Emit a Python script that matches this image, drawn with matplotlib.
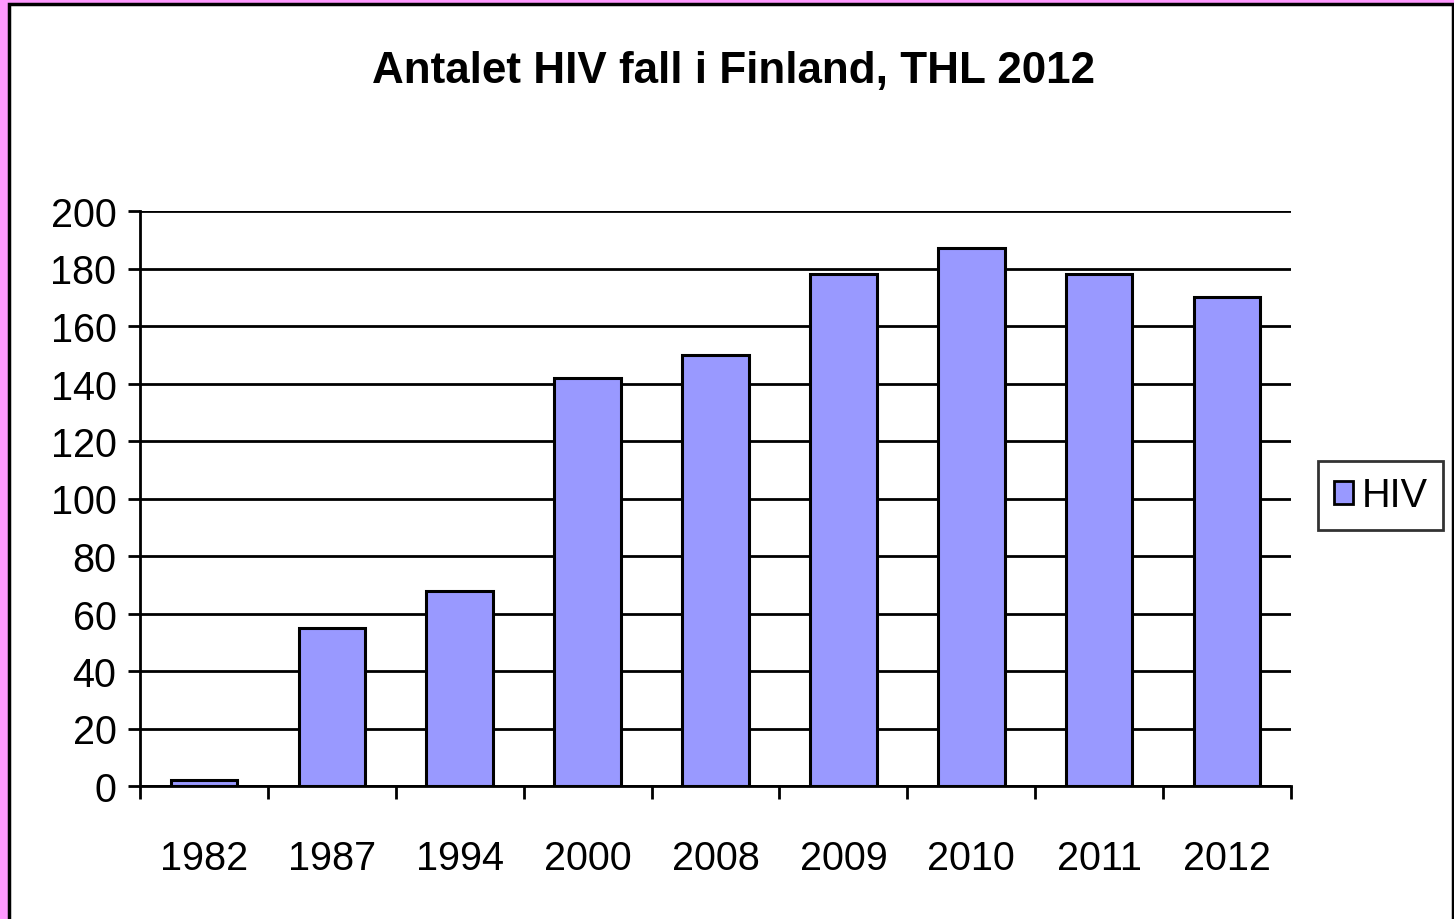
import matplotlib
matplotlib.use("Agg")
import matplotlib.pyplot as plt
from matplotlib.patches import Rectangle, Patch
import numpy as np

years = ["1982", "1987", "1994", "2000", "2008", "2009", "2010", "2011", "2012"]
hiv = [2, 55, 68, 142, 150, 178, 187, 178, 170]
yticks = [0, 20, 40, 60, 80, 100, 120, 140, 160, 180, 200]

plt.rcParams['font.family'] = ['Liberation Sans', 'DejaVu Sans']

W, H = 1454, 920
fig = plt.figure(figsize=(W / 100, H / 100), dpi=100)
fig.patch.set_facecolor('#FF99FF')

# white chart area with black frame
frame = Rectangle((8.5 / W, 0 - 0.01), (1452.5 - 8.5) / W, (915 / H) + 0.01,
                  transform=fig.transFigure, facecolor='white', edgecolor='black',
                  linewidth=2.5, zorder=-10)
fig.patches.append(frame)

ax = fig.add_axes([140 / W, 1 - 787 / H, (1291 - 140) / W, (787 - 212) / H])
ax.set_zorder(2)
ax.set_facecolor('none')

x = np.arange(len(years))
ax.bar(x, hiv, width=0.52, color='#9999FF', edgecolor='black', linewidth=2.2, zorder=3, label='HIV')

ax.set_xlim(-0.5, len(years) - 0.5)
ax.set_ylim(0, 200)
ax.set_yticks(yticks)
ax.set_yticklabels([str(v) for v in yticks], fontsize=28.5)
ax.yaxis.grid(True, color='black', linewidth=2.0, zorder=1)
ax.set_axisbelow(True)

# x: major ticks at boundaries, labels at centers via minor ticks
ax.set_xticks(np.arange(-0.5, len(years), 1.0))
ax.set_xticklabels([])
ax.set_xticks(x, minor=True)
ax.set_xticklabels(years, minor=True, fontsize=28.5)
ax.tick_params(axis='x', which='major', length=9, width=2, direction='out', color='black')
ax.tick_params(axis='x', which='minor', length=0, pad=38)
ax.tick_params(axis='y', length=9, width=2, direction='out', pad=8)

for s in ['top', 'right']:
    ax.spines[s].set_visible(False)
ax.spines['left'].set_linewidth(2)
ax.spines['bottom'].set_linewidth(2)

fig.text(0.5 * (372 + 1095) / W, 1 - 71 / H, "Antalet HIV fall i Finland, THL 2012",
         ha='center', va='center', fontsize=31.7, fontweight='bold')

leg = fig.legend(handles=[Patch(facecolor='#9999FF', edgecolor='black', linewidth=2, label='HIV')],
                 loc='center', bbox_to_anchor=(1380.5 / W, 1 - 496.5 / H), fontsize=28.5,
                 frameon=True, fancybox=False, edgecolor='black', handlelength=0.5,
                 handleheight=0.5, handletextpad=0.2, borderpad=0.4, borderaxespad=0)
leg.get_frame().set_linewidth(2)

fig.savefig("out.png", dpi=100, facecolor=fig.get_facecolor())
